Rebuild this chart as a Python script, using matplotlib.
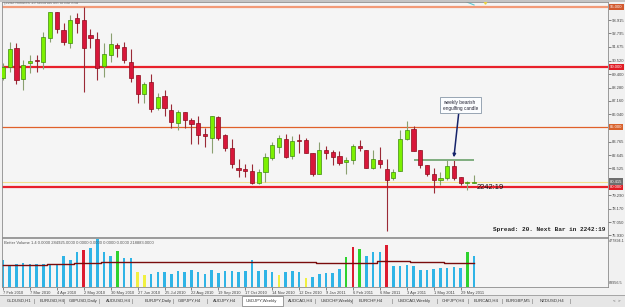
"""USDJPY weekly chart (MT4 style) with Better Volume sub-window."""

import matplotlib.pyplot as plt
from matplotlib.patches import Rectangle

plt.rcParams['font.family'] = ['Liberation Sans', 'DejaVu Sans']

W, H = 625, 307

# ---- data -----------------------------------------------------------------
opens = [89.1, 90.0, 91.6, 89.0, 90.3, 90.6, 90.4, 92.4, 94.6, 93.1,
         92.0, 94.1, 93.9, 92.7, 92.3, 90.1, 91.0, 91.8, 91.7, 90.4,
         89.3, 87.7, 88.7, 86.6, 87.6, 86.4, 85.3, 86.2, 85.6, 85.3,
         84.4, 84.1, 85.8, 84.3, 83.2, 81.6, 81.5, 81.3, 80.3, 81.2,
         82.4, 83.3, 84.0, 82.6, 83.9, 83.9, 82.8, 81.1, 83.1, 82.9,
         82.6, 82.1, 82.2, 83.4, 83.1, 81.6, 82.2, 81.5, 80.7, 81.3,
         84.0, 84.8, 83.1, 81.8, 81.1, 80.6, 80.7, 81.7, 80.8, 80.3,
         80.3]
highs = [90.3, 92.1, 92.0, 90.6, 91.0, 91.0, 92.9, 94.6, 94.6, 93.7,
         94.3, 94.5, 95.0, 93.2, 92.9, 92.0, 92.8, 92.0, 92.1, 91.5,
         89.3, 88.7, 89.4, 87.8, 88.1, 86.9, 86.4, 86.2, 85.7, 85.9,
         84.9, 85.9, 85.9, 84.4, 84.0, 82.3, 81.9, 81.9, 81.5, 82.8,
         83.7, 84.3, 84.4, 84.2, 84.4, 84.1, 82.8, 83.7, 83.4, 83.1,
         83.0, 82.5, 83.6, 83.9, 83.1, 83.1, 83.3, 82.3, 81.5, 84.7,
         85.5, 85.1, 83.1, 81.8, 81.6, 81.2, 82.2, 82.2, 80.8, 80.5,
         81.0]
lows = [88.9, 89.6, 88.6, 88.1, 89.5, 89.6, 89.8, 92.1, 92.8, 91.8,
        91.6, 92.8, 87.9, 91.6, 88.9, 89.2, 90.4, 90.8, 90.3, 88.7,
        87.0, 87.0, 86.2, 86.4, 85.9, 84.9, 84.7, 84.9, 83.6, 83.6,
        83.3, 82.8, 83.9, 83.0, 81.6, 80.8, 80.8, 80.2, 80.2, 80.4,
        82.2, 82.8, 82.4, 82.3, 82.8, 82.8, 80.9, 81.1, 82.3, 81.8,
        81.8, 81.1, 81.9, 83.0, 81.6, 81.5, 81.6, 76.3, 80.6, 81.3,
        83.9, 83.0, 81.6, 80.9, 79.5, 80.1, 80.6, 80.6, 80.1, 79.7,
        80.3]
closes = [90.0, 91.5, 88.9, 90.2, 90.5, 90.5, 92.5, 94.6, 93.2, 92.1,
          93.9, 93.7, 91.6, 92.4, 89.9, 91.1, 91.9, 91.6, 90.6, 89.1,
          87.7, 88.6, 86.5, 87.5, 86.6, 85.4, 86.2, 85.6, 85.2, 84.3,
          84.2, 85.9, 84.1, 83.2, 81.9, 81.4, 81.3, 80.3, 81.2, 82.5,
          83.5, 84.1, 82.5, 83.8, 83.85, 82.8, 81.1, 83.1, 82.8, 82.5,
          82.0, 82.2, 83.4, 83.2, 81.6, 82.3, 81.9, 80.6, 81.2, 84.0,
          84.7, 83.0, 81.8, 81.1, 80.6, 80.7, 81.7, 80.7, 80.3, 80.4,
          80.4]

volumes = [304, 260, 274, 283, 274, 268, 268, 274, 263, 333,
           304, 371, 388, 402, 478, 366, 338, 375, 319, 316,
           207, 185, 193, 204, 204, 193, 212, 207, 221, 207,
           193, 226, 199, 212, 212, 207, 212, 302, 212, 221,
           204, 185, 204, 212, 204, 157, 165, 193, 199, 199,
           232, 325, 408, 394, 333, 366, 366, 428, 254, 252,
           260, 254, 226, 226, 232, 235, 241, 249, 241, 366,
           333]
volumes = [v * 1000 for v in volumes]
# colour class of each volume bar: b=normal, r=climax, g=churn, y=low
vol_kind = list("bbbbbbbbbbbbrbbbbgbb" "yybbbbbbbb" "bbbbbbbbbb"
                "bybbbybbbb" "bgrgbbbrbb" "bbbbbbbbbg" "b")
vol_ma = ([260] * 2 + [266] * 5 + [268] * 4 + [277] * 4 + [288] * 16
          + [291] * 16 + [283] * 9 + [296] * 5 + [288] * 5 + [283] * 5)
vol_ma = [v * 1000 for v in vol_ma]

date_labels = ["7 Feb 2010", "7 Mar 2010", "4 Apr 2010", "2 May 2010",
               "30 May 2010", "27 Jun 2010", "25 Jul 2010", "22 Aug 2010",
               "19 Sep 2010", "17 Oct 2010", "14 Nov 2010", "12 Dec 2010",
               "9 Jan 2011", "6 Feb 2011", "6 Mar 2011", "3 Apr 2011",
               "1 May 2011", "29 May 2011"]
price_ticks = [93.915, 92.795, 91.675, 90.520, 89.400, 88.280, 87.160,
               86.040, 83.765, 82.645, 81.525, 79.290, 78.170, 77.050,
               75.930]
levels = [95.0, 90.0, 85.0, 80.0]
level_colors = ['#f29a78', '#e8202a', '#e0602a', '#e8202a']
level_widths = [1.6, 1.6, 0.9, 1.6]
label_colors = ['#d2582e', '#e01c24', '#d8602a', '#e01c24']
bid_price = 80.415
resistance = 82.2
res_from, res_to = 61, 70
engulf_bar = 67

vol_top, vol_bottom = 477894.1, 83956.5

tabs = ["GLDUSD,H1", "EURUSD,H4", "GBPUSD,Daily", "AUDUSD,H4",
        "EURJPY,Daily", "GBPJPY,H4", "AUDJPY,H4", "USDJPY,Weekly",
        "AUDCAD,H4", "USDCHF,Weekly", "EURCHF,H4", "USDCAD,Weekly",
        "CHFJPY,H4", "EURCAD,H4", "EURGBP,M5", "NZDUSD,H4"]
tab_x = [7, 40, 69, 106, 145, 178, 213, 246, 288, 321, 359, 398, 442, 474,
         506, 540]
sep_x = [34, 64, 99, 132, 173, 207, 315, 352, 392, 437, 468, 502, 532, 570]
active_tab = "USDJPY,Weekly"

# ---- figure ---------------------------------------------------------------
fig = plt.figure(figsize=(W / 100, H / 100), dpi=100, facecolor='#f1f1f1')
bg = '#f5f5f5'
frame = '#8c8c8c'
fs = 3.0

ax = fig.add_axes([2 / W, 1 - 237 / H, 606 / W, 235 / H], facecolor=bg)
axv = fig.add_axes([2 / W, 1 - 287 / H, 606 / W, 49 / H], facecolor=bg,
                   sharex=ax)

n = len(opens)
idx = list(range(n))
ax.set_xlim(-0.15, 89.9)
ax.set_ylim(75.80, 95.42)

# horizontal levels
for lv, c, lw in zip(levels, level_colors, level_widths):
    ax.axhline(lv, color=c, lw=lw, zorder=1)
ax.axhline(bid_price, color='#f2df8c', lw=0.8, zorder=1)

# candles
up_body, up_edge = '#7cf000', '#3f8a10'
dn_body, dn_edge = '#d8173a', '#8c0c1c'
for i in idx:
    o, h, l, c = opens[i], highs[i], lows[i], closes[i]
    up = c >= o
    edge = up_edge if up else dn_edge
    ax.vlines(i, l, h, color='#8aa070' if up else '#9a2a36', lw=0.8,
              zorder=2)
    lo, hi = min(o, c), max(o, c)
    ax.bar(i, max(hi - lo, 0.06), bottom=lo, width=0.62,
           color=up_body if up else dn_body, edgecolor=edge, lw=0.5,
           zorder=3)

# resistance + annotation
ax.hlines(resistance, res_from, res_to, color='#7fae7f', lw=1.4, zorder=2)
ax.annotate("weekly bearish\nengulfing candle",
            xy=(engulf_bar, highs[engulf_bar] + 0.25),
            xytext=(65.4, 86.8), fontsize=3.4, color='#223',
            va='center', ha='left',
            bbox=dict(boxstyle='square,pad=0.6', fc='#fbfdff', ec='#8898a8',
                      lw=0.6),
            arrowprops=dict(arrowstyle='-|>,head_length=0.5,head_width=0.25',
                            color='#15236a', lw=1.1, shrinkA=0, shrinkB=0,
                            relpos=(0.45, 0.0)),
            zorder=5)

# small trend line / object near top edge
ax.plot([68.2, 70.0], [95.59, 95.17], color='#5fc8d0', lw=0.8, zorder=2)
ax.plot([71.6], [95.4], marker='v', ms=2.5, color='#e8d040', clip_on=False,
        zorder=4)

# timer text next to last bar
ax.text(n - 0.55, closes[-1] - 0.45, "2242:19", fontsize=5.4, color='#111',
        va='center', ha='left', zorder=5)
ax.text(0.2, 95.33, "(2242 minutes 19 seconds left to bar end", fontsize=3.0,
        color='#777', va='center', ha='left')
ax.text(0.995, 0.02, "Spread: 20. Next Bar in 2242:19", transform=ax.transAxes,
        family=['Liberation Mono', 'DejaVu Sans Mono'], fontsize=4.4,
        weight='bold', color='#222', ha='right', va='bottom')

# price scale on the right
ax.yaxis.tick_right()
ax.set_yticks(price_ticks)
ax.set_yticklabels([f"{p:.3f}" for p in price_ticks])
ax.tick_params(axis='y', length=2, width=0.5, pad=1, labelsize=fs,
               colors='#555', labelcolor='#444')
ax.tick_params(axis='x', bottom=False, labelbottom=False)
yt = ax.get_yaxis_transform()
for lv, c in zip(levels, label_colors):
    ax.text(1.003, lv, f"{lv:.3f}", transform=yt, fontsize=fs, color='white',
            va='center', ha='left', clip_on=False,
            bbox=dict(boxstyle='square,pad=0.3', fc=c, ec=c, lw=0))
ax.text(1.003, bid_price, f"{bid_price:.3f}", transform=yt, fontsize=fs,
        color='white', va='center', ha='left', clip_on=False,
        bbox=dict(boxstyle='square,pad=0.3', fc='#6e6e6e', ec='#6e6e6e',
                  lw=0))

# volume window
vcol = {'b': '#2fb4e6', 'r': '#dc1c30', 'g': '#2ed22e', 'y': '#f0f040'}
axv.bar(idx, volumes, width=0.38, color=[vcol[k] for k in vol_kind],
        zorder=2)
axv.plot(idx, vol_ma, color='#7a0c0c', lw=1.0, drawstyle='steps-mid',
         zorder=4)
axv.set_ylim(vol_bottom, vol_top * 1.01)
axv.set_yticks([])
axv.text(0.004, 0.93, "Better Volume 1.4 0.0000 284925.0000 0.0000 0.0000 "
         "0.0000 0.0000 218883.0000", transform=axv.transAxes, fontsize=3.0,
         color='#555', va='top', ha='left')
axv.text(1.002, 0.97, f"{vol_top:.1f}", transform=axv.transAxes, fontsize=2.7,
         color='#444', va='top', ha='left', clip_on=False)
axv.text(1.002, 0.05, f"{vol_bottom:.1f}", transform=axv.transAxes,
         fontsize=2.7, color='#444', va='bottom', ha='left', clip_on=False)
axv.set_xticks(range(0, n, 4))
axv.set_xticklabels(date_labels, fontsize=2.9, color='#444')
for t in axv.get_xticklabels():
    t.set_horizontalalignment('left')
axv.tick_params(axis='x', length=2, width=0.5, pad=1.2, colors='#555',
                labelcolor='#444')

for a in (ax, axv):
    for s in a.spines.values():
        s.set_color(frame)
        s.set_linewidth(0.6)

# window chrome: top strip, tab bar
fig.patches.append(Rectangle((0, 1 - 2 / H), 1, 2 / H, transform=fig.transFigure,
                             fc='#c4c4c4', ec='none'))
fig.patches.append(Rectangle((0, 0), 1, 12 / H, transform=fig.transFigure,
                             fc='#e6e6e6', ec='none'))
fig.add_artist(plt.Line2D([0, 1], [12 / H, 12 / H], color='#9a9a9a', lw=0.6))
for name, x in zip(tabs, tab_x):
    if name == active_tab:
        fig.patches.append(Rectangle(((x - 4) / W, 1 / H), 41 / W, 10.5 / H,
                                     transform=fig.transFigure, fc='white',
                                     ec='#777', lw=0.5))
    fig.text(x / W, 6 / H, name, fontsize=3.1, color='#333', va='center',
             ha='left')
for x in sep_x:
    fig.text(x / W, 6 / H, "|", fontsize=3.6, color='#666', va='center',
             ha='center')
fig.text(613 / W, 6 / H, "<  >", fontsize=3.2, color='#555', va='center')

fig.savefig("out.png", dpi=100, facecolor=fig.get_facecolor())
